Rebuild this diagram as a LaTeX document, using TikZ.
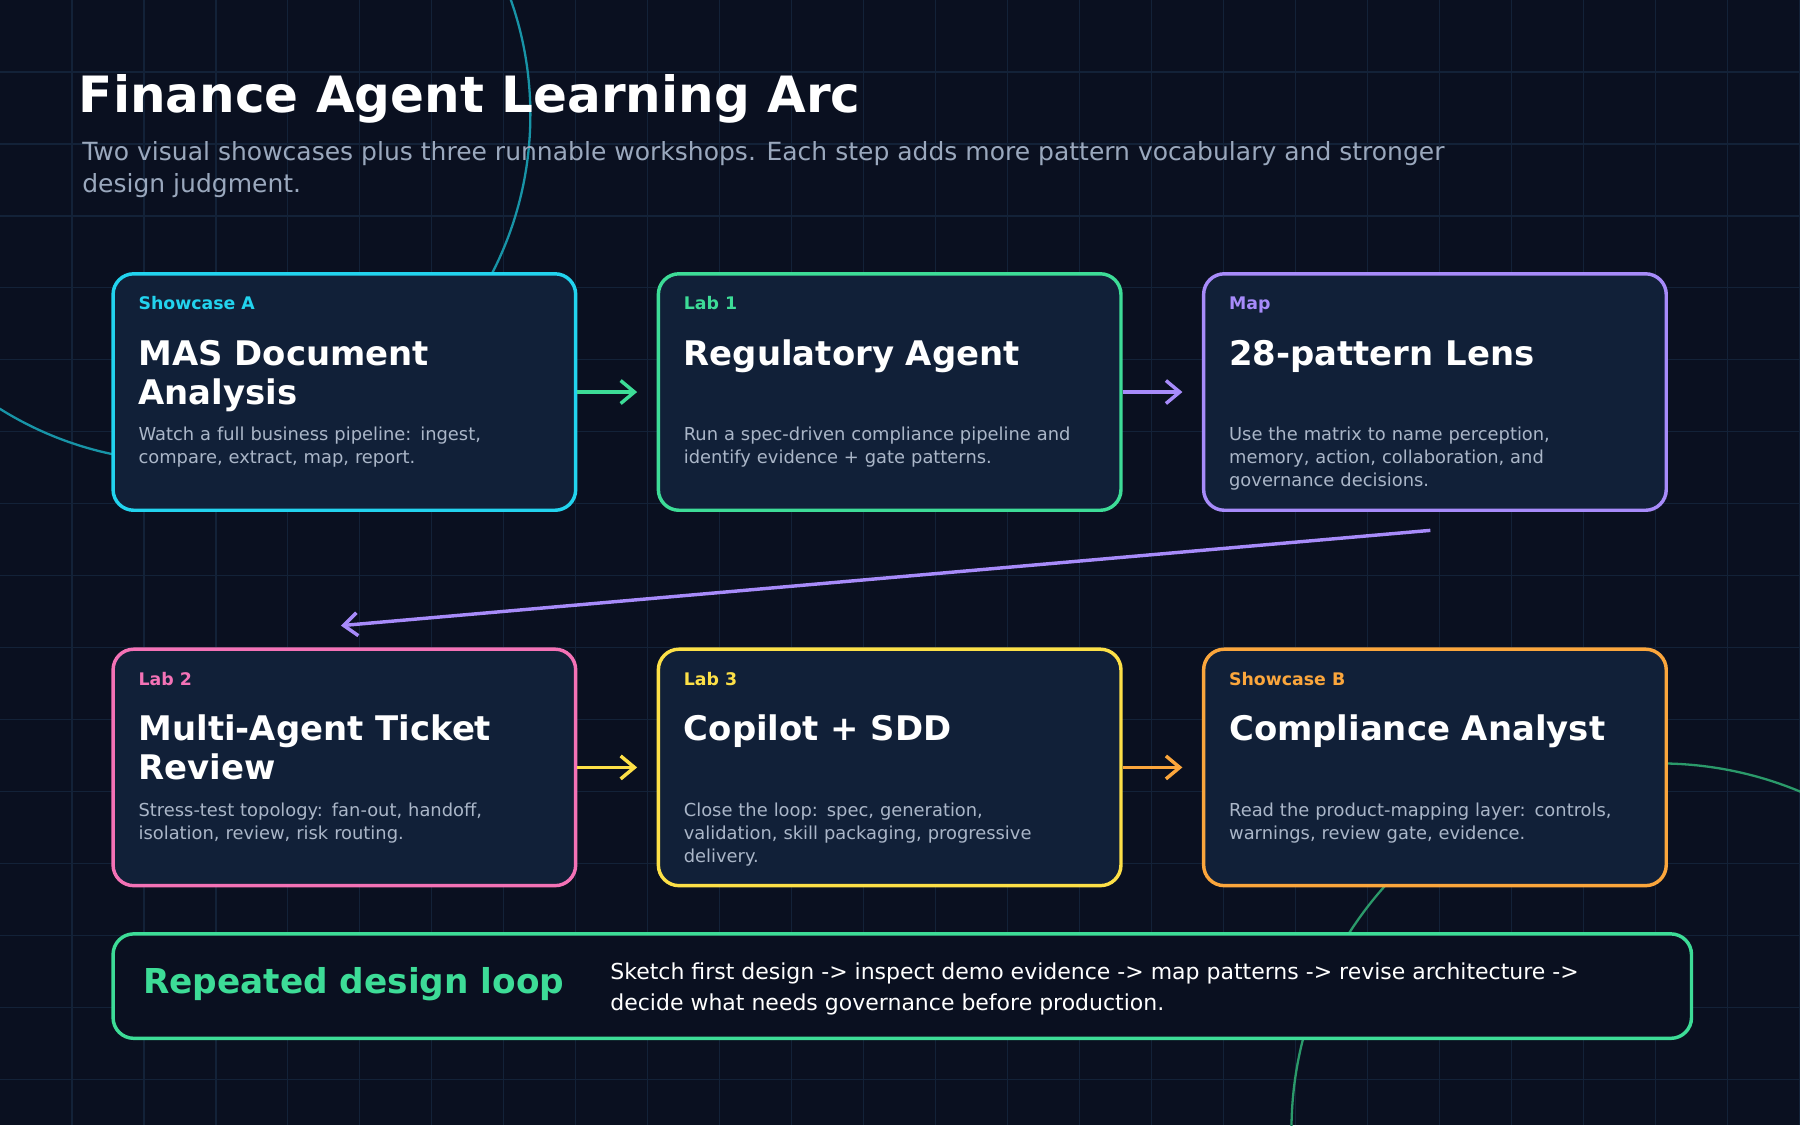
\documentclass[tikz,border=0pt]{standalone}
\usepackage{fontspec}
\setmainfont{DejaVu Sans}
\usetikzlibrary{arrows.meta,positioning}
\definecolor{bgc}{HTML}{0A1020}
\definecolor{gridc}{HTML}{132238}
\definecolor{cardc}{HTML}{112038}
\definecolor{cyanc}{HTML}{22D3EE}
\definecolor{greenc}{HTML}{3DDC97}
\definecolor{purplec}{HTML}{A78BFA}
\definecolor{pinkc}{HTML}{F472B6}
\definecolor{yellowc}{HTML}{FDE047}
\definecolor{orangec}{HTML}{FBA63C}
\definecolor{subc}{HTML}{9AA8BD}
\definecolor{descc}{HTML}{AAB6C8}
\tikzset{
  card/.style={draw=#1, line width=0.3mm, fill=cardc, rounded corners=1.8mm,
    anchor=north west, minimum width=40.3mm, minimum height=20.6mm},
  tag/.style={text=#1, font=\fontsize{4.3}{5}\selectfont\bfseries, anchor=base west, inner sep=0},
  head/.style={text=white, font=\fontsize{8.4}{9.6}\selectfont\bfseries, anchor=base west,
    align=left, inner sep=0},
  desc/.style={text=descc, font=\fontsize{4.43}{5.7}\selectfont, anchor=base west,
    align=left, text width=36mm, inner sep=0},
  link/.style={draw=#1, line width=0.3mm, -{Straight Barb[length=1.2mm,width=2mm]}, shorten >=1.7mm}
}
\begin{document}
\begin{tikzpicture}[x=0.1mm, y=-0.1mm]
\useasboundingbox (0,0) rectangle (1568,980);
\fill[bgc] (0,0) rectangle (1568,980);
% --- grid and rings ---
\foreach \i in {1,...,25} \draw[gridc, line width=0.1mm] (\i*62.7,0) -- (\i*62.7,980);
\foreach \j in {1,...,15} \draw[gridc, line width=0.1mm] (0,\j*62.7) -- (1568,\j*62.7);
\begin{scope}
\clip (0,0) rectangle (1568,980);
\draw[cyanc!70!black, line width=0.2mm] (160,100) circle (302);
\draw[greenc!70!black, line width=0.2mm] (1445,985) circle (320);
\end{scope}
% --- title ---
\node[text=white, font=\fontsize{12.4}{14}\selectfont\bfseries, anchor=base west, inner sep=0] (title) at (68,98) {Finance Agent Learning Arc};
\node[text=subc, font=\fontsize{6.2}{8}\selectfont, anchor=base west, align=left, inner sep=0] (sub) at (71,168)
  {Two visual showcases plus three runnable workshops. Each step adds more pattern vocabulary and stronger\\design judgment.};
% --- row 1 ---
\node[card=cyanc] (sa) at (97,237) {};
\node[tag=cyanc] at (120,270) {Showcase A};
\node[head] at (120,352) {MAS Document\\Analysis};
\node[desc] at (120,384) {Watch a full business pipeline: ingest,\\compare, extract, map, report.};
\node[card=greenc] (l1) at (572,237) {};
\node[tag=greenc] at (595,270) {Lab 1};
\node[head] at (595,318) {Regulatory Agent};
\node[desc] at (595,384) {Run a spec-driven compliance pipeline and\\identify evidence + gate patterns.};
\node[card=purplec] (map) at (1047,237) {};
\node[tag=purplec] at (1070,270) {Map};
\node[head] at (1070,318) {28-pattern Lens};
\node[desc] at (1070,384) {Use the matrix to name perception,\\memory, action, collaboration, and\\governance decisions.};
% --- row 2 ---
\node[card=pinkc] (l2) at (97,564) {};
\node[tag=pinkc] at (120,597) {Lab 2};
\node[head] at (120,679) {Multi-Agent Ticket\\Review};
\node[desc] at (120,711) {Stress-test topology: fan-out, handoff,\\isolation, review, risk routing.};
\node[card=yellowc] (l3) at (572,564) {};
\node[tag=yellowc] at (595,597) {Lab 3};
\node[head] at (595,645) {Copilot + SDD};
\node[desc] at (595,711) {Close the loop: spec, generation,\\validation, skill packaging, progressive\\delivery.};
\node[card=orangec] (sb) at (1047,564) {};
\node[tag=orangec] at (1070,597) {Showcase B};
\node[head] at (1070,645) {Compliance Analyst};
\node[desc] at (1070,711) {Read the product-mapping layer: controls,\\warnings, review gate, evidence.};
% --- links ---
\draw[link=greenc] (sa.east) -- (l1.west);
\draw[link=purplec] (l1.east) -- (map.west);
\coordinate (turnA) at (1246,462);
\coordinate (turnB) at (297,545);
\draw[link=purplec, shorten >=0pt] (turnA) -- (turnB);
\draw[link=yellowc] (l2.east) -- (l3.west);
\draw[link=orangec] (l3.east) -- (sb.west);
% --- loop ---
\node[draw=greenc, line width=0.3mm, fill=bgc, rounded corners=1.8mm, anchor=north west,
  minimum width=137.5mm, minimum height=9.1mm] (loop) at (97,812) {};
\node[text=greenc, font=\fontsize{8.5}{10}\selectfont\bfseries, anchor=base west, inner sep=0] at (124,865) {Repeated design loop};
\node[text=white, font=\fontsize{5.45}{7.5}\selectfont, anchor=base west, align=left, inner sep=0] at (531,880)
  {Sketch first design -> inspect demo evidence -> map patterns -> revise architecture ->\\decide what needs governance before production.};
\end{tikzpicture}
\end{document}
